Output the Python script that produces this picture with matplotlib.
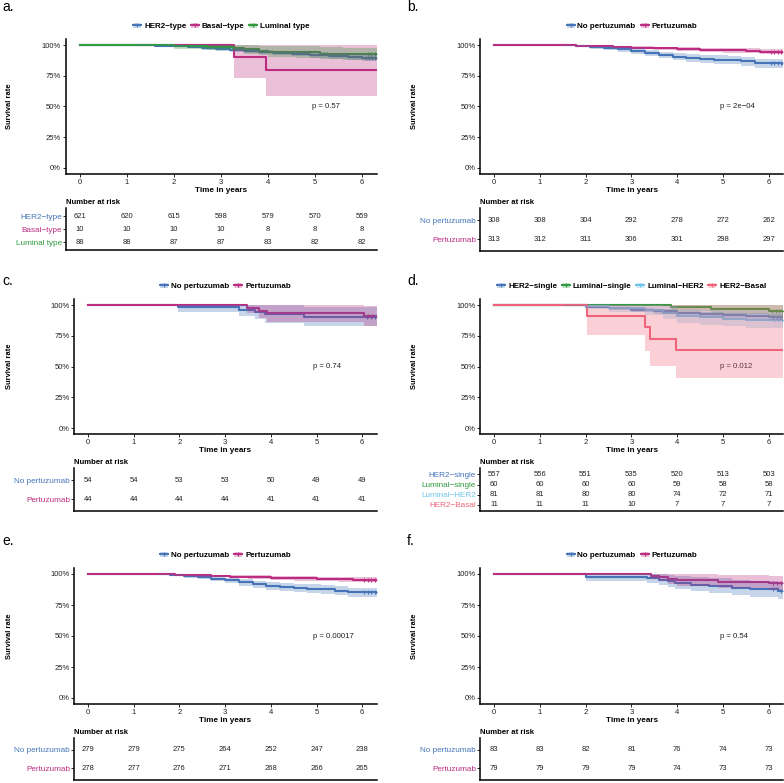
import numpy as np
import matplotlib.pyplot as plt
from matplotlib.patches import Patch
from matplotlib.lines import Line2D

plt.rcParams['font.family'] = ['Liberation Sans', 'DejaVu Sans']

W, H = 784, 783

BLUE = '#4575B8'
MAGENTA = '#BC2C80'
GREEN = '#2F9A3F'
LIGHTBLUE = '#6EC3EA'
RED = '#F0637A'

RISK_TIMES = [0, 1, 2, 3, 4, 5, 6]

# --- panel a ---
A_HER2_T = [0, 1.2, 1.6, 2.0, 2.3, 2.6, 2.9, 3.2, 3.5, 3.8, 4.1, 4.5, 4.9, 5.3, 5.7, 6.0, 6.32]
A_HER2_S = [1.0, 0.998, 0.994, 0.988, 0.982, 0.975, 0.968, 0.958, 0.950, 0.942, 0.935, 0.928, 0.920, 0.912, 0.905, 0.898, 0.898]
A_HER2_L = [1.0, 0.995, 0.988, 0.980, 0.972, 0.963, 0.955, 0.943, 0.933, 0.924, 0.916, 0.907, 0.898, 0.889, 0.881, 0.873, 0.873]
A_HER2_U = [1.0, 1.0, 0.999, 0.996, 0.991, 0.986, 0.981, 0.973, 0.967, 0.960, 0.954, 0.949, 0.942, 0.935, 0.929, 0.923, 0.923]
A_HER2_C = [6.08, 6.15, 6.22, 6.28]

A_BASAL_T = [0, 3.28, 3.96, 6.32]
A_BASAL_S = [1.0, 0.9, 0.8, 0.8]
A_BASAL_L = [1.0, 0.73, 0.585, 0.585]
A_BASAL_U = [1.0, 1.0, 1.0, 1.0]
A_BASAL_C = []

A_LUM_T = [0, 2.0, 2.7, 3.25, 3.5, 3.8, 4.0, 4.6, 5.1, 5.6, 6.1, 6.32]
A_LUM_S = [1.0, 0.99, 0.985, 0.978, 0.966, 0.955, 0.943, 0.94, 0.93, 0.925, 0.925, 0.925]
A_LUM_L = [1.0, 0.97, 0.96, 0.95, 0.93, 0.915, 0.90, 0.895, 0.885, 0.878, 0.878, 0.878]
A_LUM_U = [1.0, 1.0, 1.0, 1.0, 0.998, 0.995, 0.99, 0.988, 0.982, 0.978, 0.978, 0.978]
A_LUM_C = [6.12, 6.2, 6.27]

A_NAMES = ['HER2\u2212type', 'Basal\u2212type', 'Luminal type']
A_RISK = [[621, 620, 615, 598, 579, 570, 559],
          [10, 10, 10, 10, 8, 8, 8],
          [88, 88, 87, 87, 83, 82, 82]]

# --- panel b ---
B_NOP_T = [0, 1.5, 1.8, 2.1, 2.4, 2.7, 3.0, 3.3, 3.6, 3.9, 4.2, 4.5, 4.8, 5.1, 5.4, 5.7, 6.0, 6.32]
B_NOP_S = [1.0, 0.997, 0.99, 0.983, 0.975, 0.965, 0.95, 0.935, 0.92, 0.905, 0.895, 0.888, 0.882, 0.877, 0.868, 0.852, 0.852, 0.848]
B_NOP_L = [1.0, 0.994, 0.982, 0.971, 0.960, 0.947, 0.928, 0.910, 0.893, 0.876, 0.864, 0.856, 0.849, 0.843, 0.833, 0.815, 0.815, 0.810]
B_NOP_U = [1.0, 1.0, 0.998, 0.995, 0.990, 0.983, 0.972, 0.960, 0.947, 0.934, 0.926, 0.920, 0.915, 0.911, 0.903, 0.889, 0.889, 0.886]
B_NOP_C = [6.05, 6.12, 6.2, 6.27]

B_PER_T = [0, 1.5, 1.8, 2.2, 2.6, 3.0, 3.5, 4.0, 4.5, 5.0, 5.5, 5.8, 6.32]
B_PER_S = [1.0, 0.997, 0.993, 0.988, 0.984, 0.978, 0.973, 0.966, 0.962, 0.957, 0.953, 0.947, 0.947]
B_PER_L = [1.0, 0.994, 0.987, 0.980, 0.974, 0.966, 0.959, 0.950, 0.945, 0.939, 0.934, 0.927, 0.927]
B_PER_U = [1.0, 1.0, 0.999, 0.996, 0.994, 0.990, 0.987, 0.982, 0.979, 0.975, 0.972, 0.967, 0.967]
B_PER_C = [6.05, 6.12, 6.2, 6.27]

PERT_NAMES = ['No pertuzumab', 'Pertuzumab']
B_RISK = [[308, 308, 304, 292, 278, 272, 262],
          [313, 312, 311, 306, 301, 298, 297]]

# --- panel c ---
C_NOP_T = [0, 1.98, 3.3, 3.66, 3.88, 4.72, 6.32]
C_NOP_S = [1.0, 0.981, 0.962, 0.943, 0.925, 0.906, 0.906]
C_NOP_L = [1.0, 0.946, 0.913, 0.883, 0.857, 0.832, 0.832]
C_NOP_U = [1.0, 1.0, 1.0, 1.0, 0.998, 0.987, 0.987]
C_NOP_C = [6.1, 6.2, 6.28]

C_PER_T = [0, 3.48, 3.75, 3.92, 6.05, 6.32]
C_PER_S = [1.0, 0.977, 0.955, 0.932, 0.908, 0.908]
C_PER_L = [1.0, 0.934, 0.896, 0.862, 0.828, 0.828]
C_PER_U = [1.0, 1.0, 1.0, 1.0, 0.995, 0.995]
C_PER_C = [6.12, 6.22]

C_RISK = [[54, 54, 53, 53, 50, 49, 49],
          [44, 44, 44, 44, 41, 41, 41]]

# --- panel d ---
D_HS_T = [0, 1.5, 2.0, 2.5, 3.0, 3.5, 4.0, 4.5, 5.0, 5.5, 6.0, 6.32]
D_HS_S = [1.0, 0.996, 0.985, 0.972, 0.96, 0.948, 0.935, 0.925, 0.915, 0.908, 0.9, 0.898]
D_HS_L = [1.0, 0.991, 0.975, 0.958, 0.944, 0.930, 0.915, 0.903, 0.892, 0.884, 0.875, 0.873]
D_HS_U = [1.0, 1.0, 0.995, 0.986, 0.976, 0.966, 0.955, 0.947, 0.939, 0.933, 0.926, 0.924]
D_HS_C = [6.1, 6.18, 6.25]

D_LS_T = [0, 3.86, 4.74, 6.0, 6.32]
D_LS_S = [1.0, 0.983, 0.967, 0.95, 0.95]
D_LS_L = [1.0, 0.95, 0.925, 0.9, 0.9]
D_LS_U = [1.0, 1.0, 1.0, 1.0, 1.0]
D_LS_C = [6.08, 6.15, 6.22, 6.29]

D_LH_T = [0, 2.0, 2.5, 3.3, 3.7, 4.0, 4.5, 5.0, 5.5, 6.0, 6.32]
D_LH_S = [1.0, 0.988, 0.975, 0.963, 0.938, 0.913, 0.9, 0.89, 0.88, 0.877, 0.877]
D_LH_L = [1.0, 0.964, 0.942, 0.922, 0.888, 0.857, 0.838, 0.826, 0.814, 0.810, 0.810]
D_LH_U = [1.0, 1.0, 1.0, 1.0, 0.99, 0.97, 0.962, 0.955, 0.948, 0.946, 0.946]
D_LH_C = [6.12, 6.2, 6.28]

D_HB_T = [0, 2.02, 3.29, 3.40, 3.98, 6.32]
D_HB_S = [1.0, 0.909, 0.818, 0.727, 0.636, 0.636]
D_HB_L = [1.0, 0.754, 0.624, 0.505, 0.405, 0.405]
D_HB_U = [1.0, 1.0, 1.0, 1.0, 1.0, 1.0]
D_HB_C = []

D_NAMES = ['HER2\u2212single', 'Luminal\u2212single', 'Luminal\u2212HER2', 'HER2\u2212Basal']
D_RISK = [[557, 556, 551, 535, 520, 513, 503],
          [60, 60, 60, 60, 59, 58, 58],
          [81, 81, 80, 80, 74, 72, 71],
          [11, 11, 11, 10, 7, 7, 7]]

# --- panel e ---
E_NOP_T = [0, 1.5, 1.8, 2.1, 2.4, 2.7, 3.0, 3.3, 3.6, 3.9, 4.2, 4.5, 4.8, 5.1, 5.4, 5.7, 6.0, 6.32]
E_NOP_S = [1.0, 0.997, 0.99, 0.983, 0.975, 0.963, 0.948, 0.933, 0.918, 0.905, 0.895, 0.888, 0.882, 0.877, 0.866, 0.852, 0.852, 0.848]
E_NOP_L = [1.0, 0.994, 0.982, 0.970, 0.959, 0.944, 0.925, 0.907, 0.889, 0.874, 0.862, 0.854, 0.847, 0.841, 0.829, 0.813, 0.813, 0.808]
E_NOP_U = [1.0, 1.0, 0.998, 0.995, 0.990, 0.982, 0.971, 0.959, 0.946, 0.935, 0.927, 0.921, 0.916, 0.912, 0.902, 0.890, 0.890, 0.887]
E_NOP_C = [6.05, 6.12, 6.2, 6.27]

E_PER_T = [0, 1.5, 1.9, 2.3, 2.7, 3.1, 3.5, 4.0, 4.5, 5.0, 5.5, 5.8, 6.32]
E_PER_S = [1.0, 0.997, 0.993, 0.988, 0.984, 0.979, 0.975, 0.968, 0.964, 0.96, 0.957, 0.952, 0.952]
E_PER_L = [1.0, 0.994, 0.986, 0.979, 0.974, 0.967, 0.961, 0.952, 0.947, 0.942, 0.938, 0.932, 0.932]
E_PER_U = [1.0, 1.0, 0.999, 0.997, 0.994, 0.991, 0.989, 0.984, 0.981, 0.978, 0.976, 0.972, 0.972]
E_PER_C = [6.05, 6.12, 6.2, 6.27]

E_RISK = [[279, 279, 275, 264, 252, 247, 238],
          [278, 277, 276, 271, 268, 266, 265]]

# --- panel f ---
F_NOP_T = [0, 2.0, 3.35, 3.6, 3.8, 3.95, 4.3, 4.7, 5.2, 5.6, 6.2, 6.32]
F_NOP_S = [1.0, 0.976, 0.964, 0.952, 0.94, 0.928, 0.915, 0.903, 0.89, 0.878, 0.866, 0.866]
F_NOP_L = [1.0, 0.944, 0.925, 0.908, 0.892, 0.876, 0.860, 0.845, 0.830, 0.815, 0.800, 0.800]
F_NOP_U = [1.0, 1.0, 1.0, 0.997, 0.990, 0.982, 0.973, 0.964, 0.955, 0.946, 0.937, 0.937]
F_NOP_C = [6.1, 6.18, 6.26]

F_PER_T = [0, 3.42, 3.6, 3.8, 4.0, 4.9, 6.0, 6.32]
F_PER_S = [1.0, 0.987, 0.975, 0.962, 0.949, 0.937, 0.924, 0.924]
F_PER_L = [1.0, 0.962, 0.941, 0.921, 0.903, 0.887, 0.871, 0.871]
F_PER_U = [1.0, 1.0, 1.0, 1.0, 0.997, 0.99, 0.98, 0.98]
F_PER_C = [6.1, 6.18, 6.26]

F_RISK = [[83, 83, 82, 81, 76, 74, 73],
          [79, 79, 79, 79, 74, 73, 73]]

XMIN, XMAX = -0.3, 6.32
YMIN, YMAX = -0.05, 1.05
TXT = '#222222'


def box(x_px, y_px, w_px, h_px):
    # pixel box (top-left origin) -> figure fraction
    return [x_px / W, 1 - (y_px + h_px) / H, w_px / W, h_px / H]


def step_at(T, S, t):
    idx = np.searchsorted(T, t, side='right') - 1
    return np.asarray(S)[idx]


def draw_panel(fig, letter, curves, names, colors, risk, pval, lay):
    x0, ppy, y100, y0, t_top, t_bot, ylab_x, letter_xy = lay
    ax_left = x0 + XMIN * ppy
    ax_w = (XMAX - XMIN) * ppy
    ax_top = y100 - (YMAX - 1) * (y0 - y100)
    ax_h = (YMAX - YMIN) * (y0 - y100)

    ax = fig.add_axes(box(ax_left, ax_top, ax_w, ax_h))
    for (T, S, L, U, C), col in zip(curves, colors):
        ax.step(T, S, where='post', color=col, lw=1.5, zorder=2)
        if len(C):
            ax.plot(C, step_at(T, S, C), ls='none', marker='+', ms=3.5, mew=0.8, color=col, zorder=3)
    # survminer puts the ribbons on top of the lines
    for (T, S, L, U, C), col in zip(curves, colors):
        ax.fill_between(T, L, U, step='post', color=col, alpha=0.3, lw=0, zorder=4)

    ax.set_xlim(XMIN, XMAX)
    ax.set_ylim(YMIN, YMAX)
    ax.set_xticks(RISK_TIMES)
    ax.set_yticks([0, 0.25, 0.5, 0.75, 1.0])
    ax.set_yticklabels(['0%', '25%', '50%', '75%', '100%'])
    for s in ['top', 'right']:
        ax.spines[s].set_visible(False)
    for s in ['left', 'bottom']:
        ax.spines[s].set_linewidth(1.1)
    ax.tick_params(length=2, width=0.6, labelsize=5.5, pad=1.5, labelcolor=TXT)
    ax.text(4.93, 0.5, pval, ha='left', va='center', fontsize=5.6, color=TXT)

    handles = [(Patch(facecolor=c, alpha=0.3, lw=0),
                Line2D([], [], color=c, lw=1.4, marker='+', ms=3, mew=0.8)) for c in colors]
    ax.legend(handles, names, ncol=len(names), loc='center',
              bbox_to_anchor=(0.5, 1 + 12.5 / ax_h), frameon=False,
              handlelength=1.0, handleheight=0.6, handletextpad=0.35, columnspacing=0.6,
              prop={'weight': 'bold', 'size': 5.8}, borderpad=0)

    # labels in pixel coordinates
    fig.text(ylab_x / W, 1 - (ax_top + ax_h / 2) / H, 'Survival rate', rotation=90,
             ha='center', va='center', fontsize=5.4, fontweight='bold')
    fig.text((ax_left + ax_w / 2) / W, 1 - (ax_top + ax_h + 16) / H, 'Time in years',
             ha='center', va='center', fontsize=5.9, fontweight='bold')
    fig.text(ax_left / W, 1 - (ax_top + ax_h + 28) / H, 'Number at risk',
             ha='left', va='center', fontsize=5.6, fontweight='bold')
    fig.text(letter_xy[0] / W, 1 - letter_xy[1] / H, letter,
             ha='left', va='center', fontsize=10)

    # risk table
    tb = fig.add_axes(box(ax_left, t_top, ax_w, t_bot - t_top))
    n = len(names)
    for i, row in enumerate(risk):
        for t, v in zip(RISK_TIMES, row):
            tb.text(t, i + 1, str(v), ha='center', va='center', fontsize=5.5, color=TXT)
    tb.set_xlim(XMIN, XMAX)
    tb.set_ylim(n + 0.62, 0.36)
    tb.set_xticks([])
    tb.set_yticks(range(1, n + 1))
    tb.set_yticklabels(names, fontsize=5.9)
    for lbl, c in zip(tb.get_yticklabels(), colors):
        lbl.set_color(c)
    tb.tick_params(axis='y', length=2, width=0.6, pad=1)
    for s in ['top', 'right']:
        tb.spines[s].set_visible(False)
    for s in ['left', 'bottom']:
        tb.spines[s].set_linewidth(1.1)


fig = plt.figure(figsize=(W / 100, H / 100), dpi=100)

PERT_COLORS = [BLUE, MAGENTA]

draw_panel(fig, 'a.',
           [(A_HER2_T, A_HER2_S, A_HER2_L, A_HER2_U, A_HER2_C),
            (A_BASAL_T, A_BASAL_S, A_BASAL_L, A_BASAL_U, A_BASAL_C),
            (A_LUM_T, A_LUM_S, A_LUM_L, A_LUM_U, A_LUM_C)],
           A_NAMES, [BLUE, MAGENTA, GREEN], A_RISK, 'p = 0.57',
           (80, 47.0, 45, 168, 208, 250, 10, (2, 7)))

draw_panel(fig, 'b.',
           [(B_NOP_T, B_NOP_S, B_NOP_L, B_NOP_U, B_NOP_C),
            (B_PER_T, B_PER_S, B_PER_L, B_PER_U, B_PER_C)],
           PERT_NAMES, PERT_COLORS, B_RISK, 'p = 2e\u221204',
           (494, 45.8, 45, 168, 208, 251, 415, (407, 7)))

draw_panel(fig, 'c.',
           [(C_NOP_T, C_NOP_S, C_NOP_L, C_NOP_U, C_NOP_C),
            (C_PER_T, C_PER_S, C_PER_L, C_PER_U, C_PER_C)],
           PERT_NAMES, PERT_COLORS, C_RISK, 'p = 0.74',
           (88, 45.7, 305, 428, 468, 511, 10, (2, 281)))

draw_panel(fig, 'd.',
           [(D_HS_T, D_HS_S, D_HS_L, D_HS_U, D_HS_C),
            (D_LS_T, D_LS_S, D_LS_L, D_LS_U, D_LS_C),
            (D_LH_T, D_LH_S, D_LH_L, D_LH_U, D_LH_C),
            (D_HB_T, D_HB_S, D_HB_L, D_HB_U, D_HB_C)],
           D_NAMES, [BLUE, GREEN, LIGHTBLUE, RED], D_RISK, 'p = 0.012',
           (494, 45.8, 305, 428, 468, 511, 415, (407, 281)))

draw_panel(fig, 'e.',
           [(E_NOP_T, E_NOP_S, E_NOP_L, E_NOP_U, E_NOP_C),
            (E_PER_T, E_PER_S, E_PER_L, E_PER_U, E_PER_C)],
           PERT_NAMES, PERT_COLORS, E_RISK, 'p = 0.00017',
           (88, 45.7, 574, 698, 738, 780, 10, (2, 541)))

draw_panel(fig, 'f.',
           [(F_NOP_T, F_NOP_S, F_NOP_L, F_NOP_U, F_NOP_C),
            (F_PER_T, F_PER_S, F_PER_L, F_PER_U, F_PER_C)],
           PERT_NAMES, PERT_COLORS, F_RISK, 'p = 0.54',
           (494, 45.8, 574, 698, 738, 780, 415, (407, 541)))

fig.savefig('out.png', dpi=100)
